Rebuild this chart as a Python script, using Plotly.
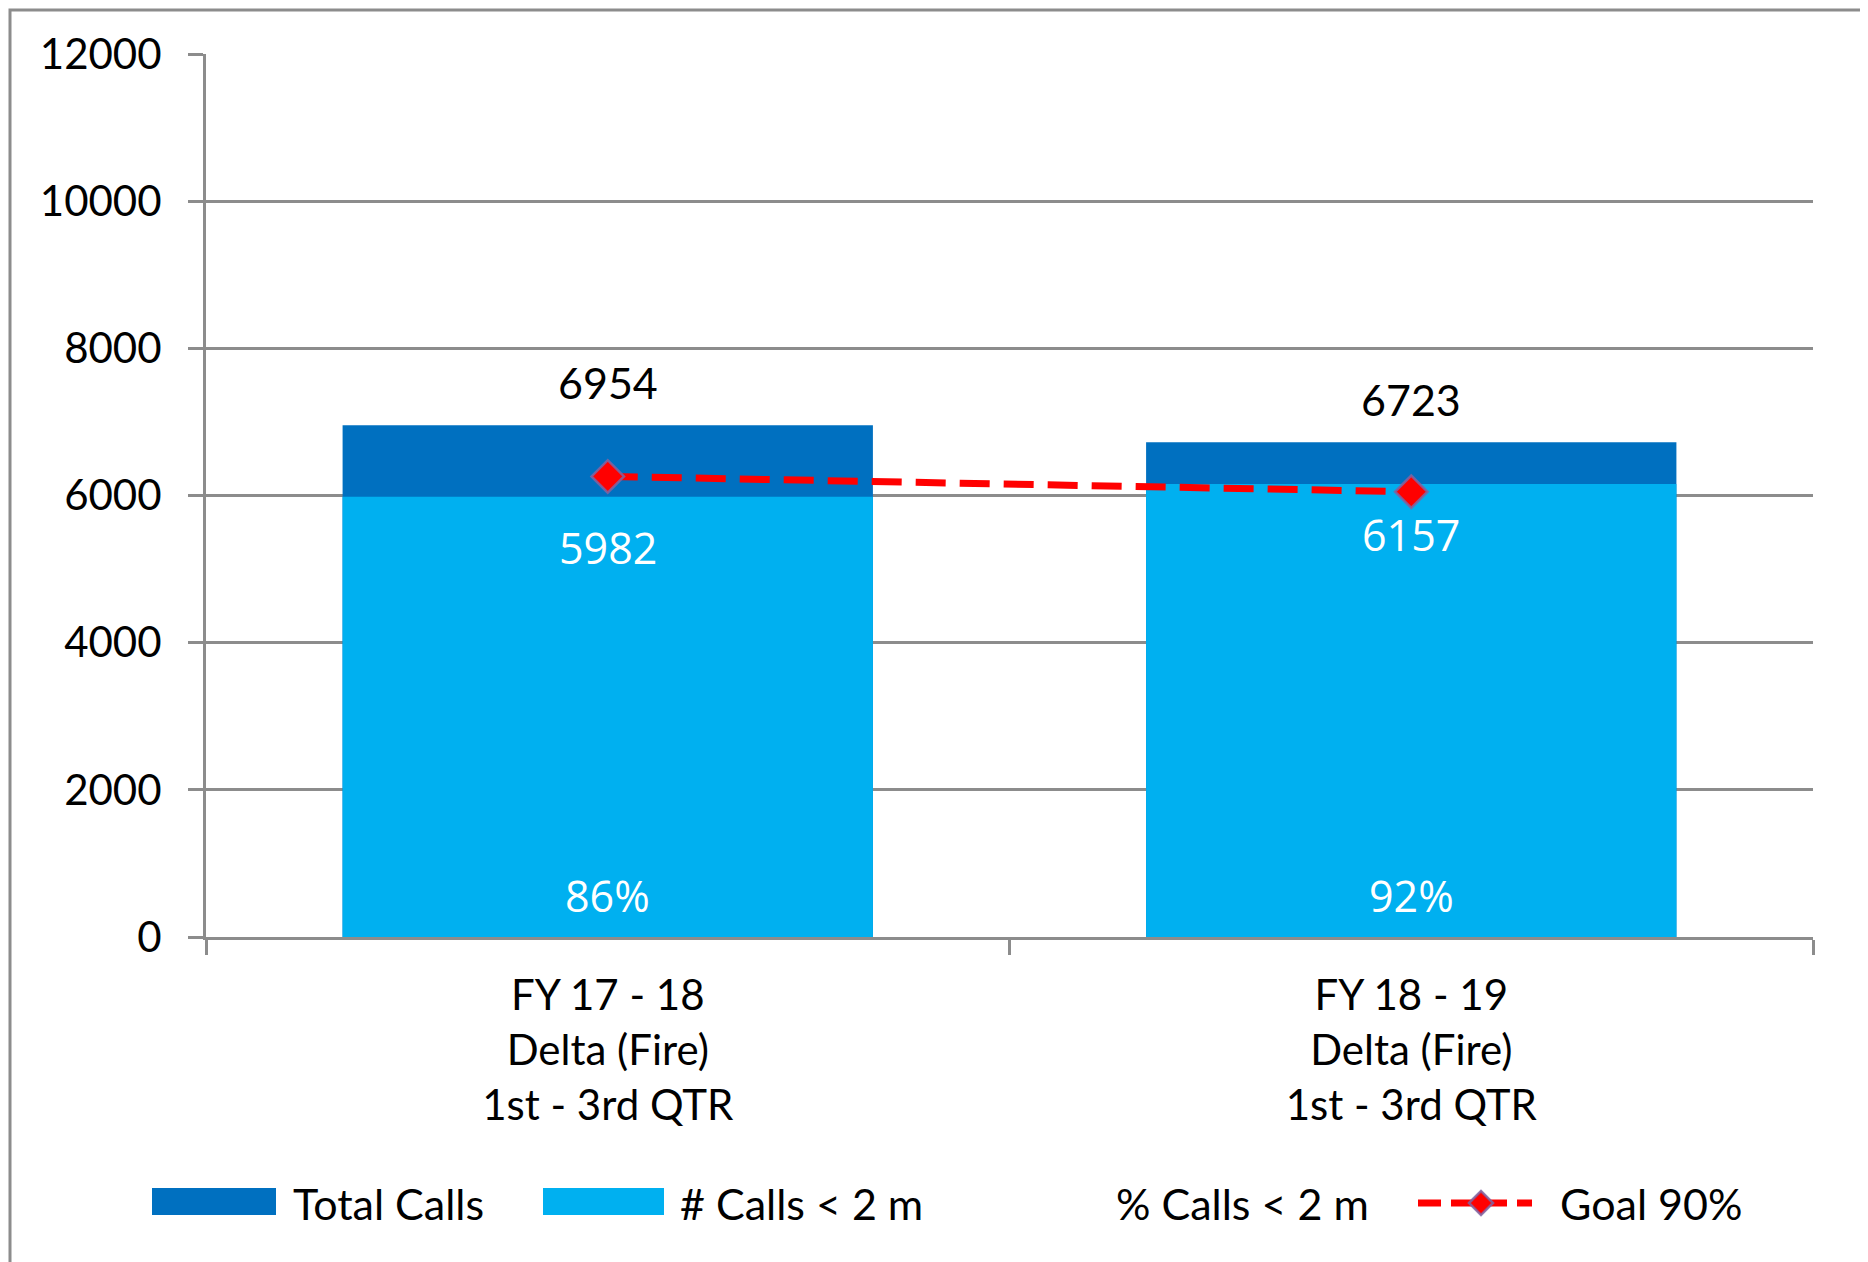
import plotly.graph_objects as go

# data
categories = ["FY 17 - 18<br>Delta (Fire)<br>1st - 3rd QTR",
              "FY 18 - 19<br>Delta (Fire)<br>1st - 3rd QTR"]
total_calls = [6954, 6723]
calls_under_2m = [5982, 6157]
pct_under_2m = [86, 92]
goal_90 = [6259, 6051]

DARK = "#0070C0"
LIGHT = "#00B0F0"
GRID = "#8c8c8c"
TXT = "Lato"
TXT_IN = "Open Sans"

# the page puts the figure 8px in from the corner, so work in page pixels and shift
OFF = 8
W, H = 1868 - OFF, 1262 - OFF
L, R, T, B = 206, 1813, 54, 937     # plot area, page pixels
pw, ph = R - L, B - T


def px(x):
    return (x - L) / pw


def py(y):
    return (B - y) / ph


fig = go.Figure()
fig.add_trace(go.Bar(x=categories, y=total_calls, name="Total Calls",
                     marker=dict(color=DARK, line_width=0), width=0.66))
fig.add_trace(go.Bar(x=categories, y=calls_under_2m, name="# Calls < 2 m",
                     marker=dict(color=LIGHT, line_width=0), width=0.66))
fig.add_trace(go.Scatter(x=categories, y=goal_90, name="Goal 90%", mode="lines+markers",
                         line=dict(color="#FF0000", width=7, dash="30px,14px"),
                         marker=dict(symbol="diamond", size=25, color="#FF0000",
                                     line=dict(color="rgba(128,100,162,0.85)", width=2.5))))

# value labels
for c, t, u, p in zip(categories, total_calls, calls_under_2m, pct_under_2m):
    fig.add_annotation(x=c, y=t, text=str(t), showarrow=False, yshift=43,
                       font=dict(family=TXT, size=43, color="black"))
    fig.add_annotation(x=c, y=u, text=str(u), showarrow=False, yshift=-51,
                       font=dict(family=TXT_IN, size=43, color="white"))
    fig.add_annotation(x=c, y=0, text="%d%%" % p, showarrow=False, yshift=42,
                       font=dict(family=TXT_IN, size=43, color="white"))

# hand-drawn legend along the bottom
ly = 1203
shapes = [
    dict(type="rect", xref="paper", yref="paper", x0=px(10), x1=px(1865), y0=py(1270), y1=py(10),
         line=dict(color=GRID, width=3), fillcolor="rgba(0,0,0,0)"),
    dict(type="rect", xref="paper", yref="paper", x0=px(152), x1=px(276), y0=py(1215), y1=py(1188),
         line_width=0, fillcolor=DARK),
    dict(type="rect", xref="paper", yref="paper", x0=px(543), x1=px(664), y0=py(1215), y1=py(1188),
         line_width=0, fillcolor=LIGHT),
    dict(type="line", xref="paper", yref="paper", x0=px(1418), x1=px(1532), y0=py(ly), y1=py(ly),
         line=dict(color="#FF0000", width=7, dash="23px,10px")),
]
cx, d = 1481, 12
shapes.append(dict(type="path", xref="paper", yref="paper",
                   path="M %f,%f L %f,%f L %f,%f L %f,%f Z" % (
                       px(cx - d), py(ly), px(cx), py(ly - d), px(cx + d), py(ly), px(cx), py(ly + d)),
                   fillcolor="#FF0000", line=dict(color="rgba(128,100,162,0.85)", width=2.5)))
for xpos, label in [(291, "Total Calls"), (678, "# Calls < 2 m"),
                    (1114, "% Calls < 2 m"), (1558, "Goal 90%")]:
    fig.add_annotation(xref="paper", yref="paper", x=px(xpos), y=py(ly), text=label,
                       showarrow=False, xanchor="left", yanchor="middle",
                       font=dict(family=TXT, size=43, color="black"))

fig.update_layout(
    width=W, height=H,
    margin=dict(l=L - OFF, r=W - (R - OFF), t=T - OFF, b=H - (B - OFF), pad=0),
    paper_bgcolor="white", plot_bgcolor="white",
    barmode="overlay", showlegend=False,
    shapes=shapes,
    font=dict(family=TXT, size=42, color="black"),
)
fig.update_xaxes(showline=True, linecolor=GRID, linewidth=3, ticks="outside", tickson="boundaries",
                 ticklen=15, tickwidth=3, tickcolor=GRID, showgrid=False, automargin=False,
                 tickfont=dict(family=TXT, size=42, color="black"), ticklabelstandoff=20)
fig.update_yaxes(range=[0, 12000], dtick=2000, tickformat="d", showline=True, linecolor=GRID,
                 linewidth=3, ticks="outside", ticklen=15, tickwidth=3, tickcolor=GRID,
                 showgrid=True, gridcolor=GRID, gridwidth=3, zeroline=False, automargin=False,
                 tickfont=dict(family=TXT, size=42, color="black"), ticklabelstandoff=18)

fig.write_html("out.html")
